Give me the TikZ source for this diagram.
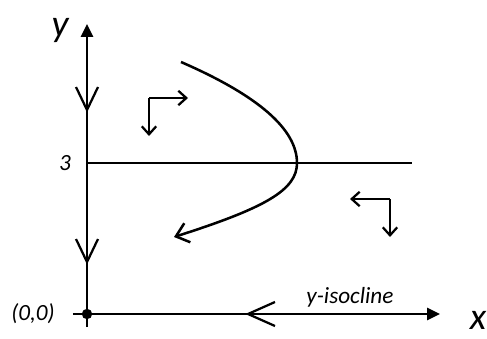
\documentclass[tikz,border=0pt]{standalone}
\usepackage{fontspec}
\setmainfont{Carlito}
\usetikzlibrary{arrows.meta}

\begin{document}
\begin{tikzpicture}[
  font=\itshape,
  axis/.style={line width=1.8pt, -{Triangle[length=3.2mm, width=3mm]}},
  curve/.style={line width=1.8pt, -{Straight Barb[length=3mm, width=5mm]}},
  flow/.style={line width=1.6pt, -{Straight Barb[length=2mm, width=3.6mm]}},
  barb/.style={line width=1.6pt},
  lbl/.style={font=\fontsize{16.5}{19}\selectfont\itshape},
  big/.style={font=\fontsize{27}{31}\selectfont\itshape},
]

% ── Grid coordinates ───────────────────────────────────────────────
\def\yTop{7.25}     % top of y axis
\def\xEnd{8.825}    % end of x axis
\def\yIso{3.775}    % the line y = 3
\def\xIso{8.125}    % right end of that line

\useasboundingbox (-2.175,-0.6) rectangle (10.0,7.85);

% ── Axes ───────────────────────────────────────────────────────────
\coordinate (origin) at (0,0);
\coordinate (ytop)   at (0,\yTop);
\coordinate (ybot)   at (0,-0.325);
\coordinate (xleft)  at (-0.35,0);
\coordinate (xend)   at (\xEnd,0);
\coordinate (isoL)   at (0,\yIso);
\coordinate (isoR)   at (\xIso,\yIso);

\draw[axis] (ybot) -- (ytop);
\draw[axis] (xleft) -- (xend);
\draw[line width=1.8pt] (isoL) -- (isoR);
\fill (origin) circle (0.13);

% open barbs along the axes
\draw[barb] (-0.275,5.675) -- (0,5.1) -- (0.275,5.675);
\draw[barb] (-0.275,1.875) -- (0,1.3) -- (0.275,1.875);
\draw[barb] (4.7,0.3) -- (4.025,0) -- (4.7,-0.3);

% ── Labels ─────────────────────────────────────────────────────────
\node[big] (ylab)   at (-0.675,7.1)  {y};
\node[big] (xlab)   at (9.775,-0.15) {x};
\node[lbl] (three)  at (-0.55,3.775) {3};
\node[lbl] (orig)   at (-1.35,0)     {(0,0)};
\node[lbl] (isolab) at (6.575,0.42)  {y-isocline};

% ── Trajectory ─────────────────────────────────────────────────────
\coordinate (start)  at (2.35,6.3);
\coordinate (vertex) at (5.25,3.775);
\coordinate (finish) at (2.175,1.925);
\draw[curve] (start) .. controls (4.2825,5.46) and (5.25,4.6175) .. (vertex)
                     .. controls (5.25,3.1) and (4.45,2.65) .. (finish);

% ── Direction arrows ───────────────────────────────────────────────
\coordinate (cornerA) at (1.55,5.4);
\coordinate (cornerB) at (7.575,2.875);
\draw[flow] (cornerA) -- (2.525,5.4);
\draw[flow] (cornerA) -- (1.55,4.45);
\draw[flow] (cornerB) -- (6.575,2.875);
\draw[flow] (cornerB) -- (7.575,1.925);

\end{tikzpicture}
\end{document}
